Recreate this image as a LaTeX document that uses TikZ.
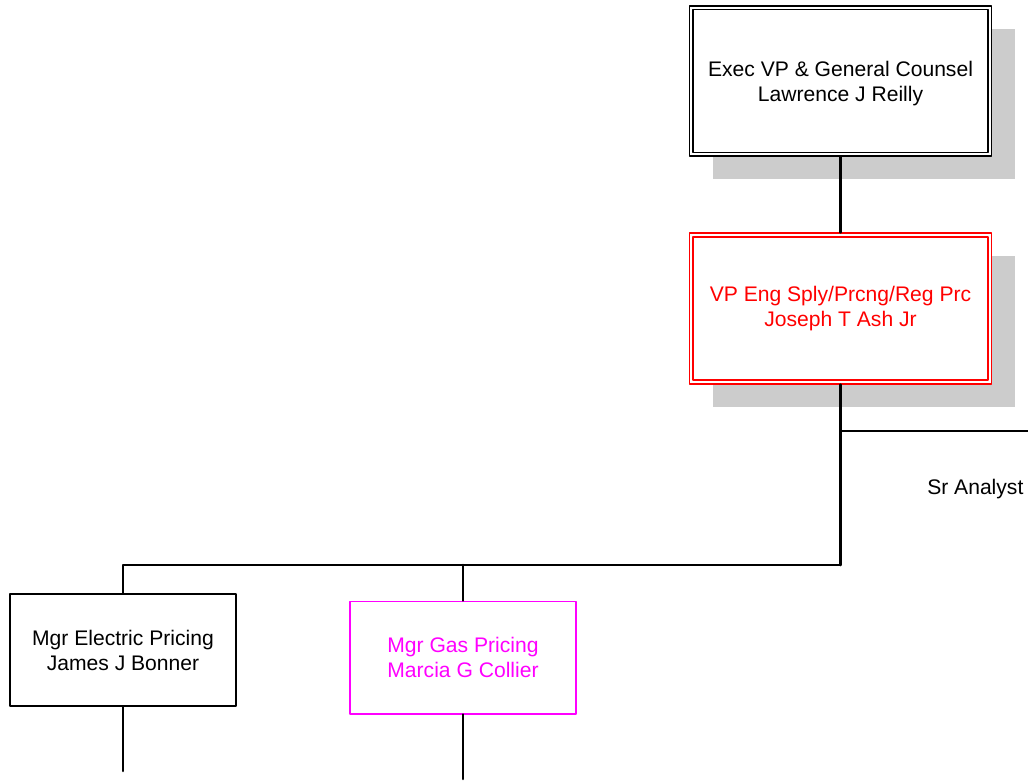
\documentclass[tikz,border=0pt]{standalone}
\usepackage{fontspec}
\setmainfont{Liberation Sans}
\usetikzlibrary{positioning,shadows,calc}
\definecolor{shadowgray}{RGB}{204,204,204}
\definecolor{vpred}{RGB}{255,0,0}
\definecolor{mgrpink}{RGB}{255,0,255}

\begin{document}
\begin{tikzpicture}[x=0.025cm,y=-0.025cm,line cap=round,line join=round,
	orgtext/.style={align=center,inner sep=0pt,font=\fontsize{15}{17.8}\selectfont},
	execbox/.style={orgtext,draw,fill=white,line width=1.2pt,
		minimum width=7.55cm,minimum height=3.76cm,
		drop shadow={shadow xshift=0.58cm,shadow yshift=-0.58cm,fill=shadowgray,opacity=1}},
	innerframe/.style={line width=1.2pt},
	mgrbox/.style={orgtext,draw,fill=white,line width=1.4pt,minimum width=5.65cm,minimum height=2.8cm},
	link/.style={draw=black,line width=1.8pt}]
	\useasboundingbox (0,0) rectangle (1028,781);
	% officers
	\node[execbox] (exec) at (840.5,81) {\rule{0pt}{15pt}Exec VP \& General Counsel\\Lawrence J Reilly};
	\draw[innerframe] ($(exec.north west)+(4.5,4.5)$) rectangle ($(exec.south east)+(-4.5,-4.5)$);
	\node[execbox,draw=vpred,text=vpred] (vp) at (840.5,308.5) {VP Eng Sply/Prcng/Reg Prc\\Joseph T Ash Jr};
	\draw[innerframe,vpred] ($(vp.north west)+(4.5,4.5)$) rectangle ($(vp.south east)+(-4.5,-4.5)$);
	% managers
	\node[mgrbox] (elec) at (123,650) {Mgr Electric Pricing\\James J Bonner};
	\node[mgrbox,draw=mgrpink,text=mgrpink] (gas) at (463,657.5) {Mgr Gas Pricing\\Marcia G Collier};
	\node[orgtext,anchor=west] (analyst) at (927,489) {Sr Analyst};
	% connectors
	\coordinate (staffend) at (1028,431);
	\coordinate (mgrbus) at (840.5,565);
	\coordinate (elecdown) at (123,771);
	\coordinate (gasdown) at (463,779);
	\draw[link] (exec.south) -- (vp.north);
	\draw[link] (vp.south) -- (mgrbus);
	\draw[link] (vp.south |- staffend) -- (staffend);
	\draw[link] (elec.north) |- (mgrbus);
	\draw[link] (gas.north) -- (gas.north |- mgrbus);
	\draw[link] (elec.south) -- (elecdown);
	\draw[link] (gas.south) -- (gasdown);
\end{tikzpicture}
\end{document}
